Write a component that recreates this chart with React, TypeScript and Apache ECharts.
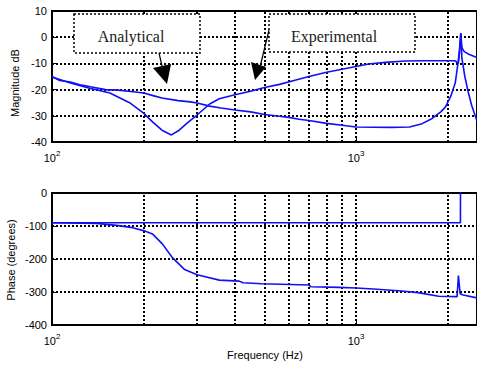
import React, { useEffect, useRef } from "react";
import * as echarts from "echarts";

// ---- data ----
const FREQ_MIN = 100;
const FREQ_MAX = 2500;
const gridFreqs = [200, 300, 400, 500, 600, 700, 800, 900, 1000, 2000];
const magTickLabels = [10, 0, -10, -20, -30, -40];
const phaseTickLabels = [0, -100, -200, -300, -400];

// Magnitude, analytical model (smooth curve with dip near 250 Hz)
const magAnalytical: [number, number][] = [
  [100, -15.2], [115, -17.5], [133, -19.5], [155, -21.3], [180, -25], [200, -29],
  [215, -32.5], [230, -35.5], [247, -37.3], [262, -35.5], [280, -32.5], [300, -29.7],
  [330, -25.5], [355, -23.5], [400, -22.0], [450, -20.6], [500, -19.2], [560, -18.0],
  [630, -16.4], [700, -15.0], [800, -13.4], [900, -12.2], [1000, -11.2], [1100, -10.2],
  [1250, -9.6], [1450, -9.1], [1700, -9.0], [2000, -9.0], [2120, -9.0], [2170, -10],
  [2195, -5], [2210, 1.5], [2230, -4], [2270, -5.5], [2350, -6.5], [2500, -7.8],
];

// Magnitude, experimental (measured)
const magExperimental: [number, number][] = [
  [100, -15], [106, -16.5], [115, -17.1], [125, -18.3], [135, -19], [150, -20],
  [165, -20.2], [185, -20.8], [200, -21.3], [215, -22.3], [230, -23.2], [260, -24.2],
  [285, -24.7], [300, -25.1], [330, -26.3], [360, -27], [400, -27.8], [450, -28.5],
  [500, -29.5], [560, -30.2], [600, -30.6], [650, -31.3], [700, -31.8], [800, -32.9],
  [900, -33.6], [1000, -34.3], [1300, -34.4], [1500, -34.3], [1650, -33], [1780, -31],
  [1900, -28.5], [1970, -26.6], [2050, -22.5], [2120, -17.5], [2170, -9], [2200, -2],
  [2212, 1.6], [2230, -8], [2280, -15], [2340, -21], [2400, -26], [2500, -32],
];

// Phase, flat curve with jump
const phaseA: [number, number][] = [
  [100, -90], [2205, -90], [2207, 90], [2500, 90],
];

// Phase, falling curve
const phaseB: [number, number][] = [
  [100, -90], [140, -92], [163, -98], [184, -105], [200, -114], [214, -124],
  [231, -155], [249, -196], [273, -232], [300, -248], [355, -264], [413, -267],
  [425, -272], [490, -275], [700, -279], [710, -284], [880, -286], [1000, -288],
  [1140, -291], [1380, -296], [1600, -302], [1870, -313], [2150, -314], [2172, -250],
  [2200, -305], [2250, -309], [2500, -318],
];

const BLUE = "#1010f5";
const FONT = '"Liberation Sans", Arial, sans-serif';
const GRID_STYLE = { color: "#000", type: [2, 2], width: 2 };

function xAxisFor(gridIndex: number) {
  return {
    type: "log" as const,
    logBase: 10,
    gridIndex,
    min: FREQ_MIN,
    max: FREQ_MAX,
    axisLine: { show: true, onZero: false, lineStyle: { color: "#000", width: 2 } },
    axisTick: { show: true, inside: true, length: 4, lineStyle: { color: "#000" } },
    splitLine: { show: false },
    axisLabel: {
      show: true,
      margin: 7,
      color: "#000",
      fontFamily: FONT,
      fontSize: 11,
      showMaxLabel: false,
      formatter: (v: number) => {
        const e = Math.round(Math.log10(v));
        if (Math.abs(Math.log10(v) - e) > 1e-6) return "";
        return "{b|10}{s|" + e + "}";
      },
      rich: {
        b: { fontSize: 11, fontFamily: FONT, color: "#000", lineHeight: 14, verticalAlign: "bottom" },
        s: { fontSize: 8, fontFamily: FONT, color: "#000", lineHeight: 14, verticalAlign: "top", padding: [0, 0, 6, 0] },
      },
    },
  };
}

function yAxisFor(gridIndex: number, min: number, max: number, interval: number) {
  return {
    type: "value" as const,
    gridIndex,
    min,
    max,
    interval,
    axisLine: { show: true, lineStyle: { color: "#000", width: 2 } },
    axisTick: { show: true, inside: true, length: 4, lineStyle: { color: "#000" } },
    axisLabel: { color: "#000", fontFamily: FONT, fontSize: 11, margin: 5 },
    splitLine: { show: true, lineStyle: GRID_STYLE },
  };
}

function vGrid() {
  return {
    silent: true,
    symbol: ["none", "none"],
    label: { show: false },
    animation: false,
    lineStyle: GRID_STYLE,
    data: gridFreqs.map((f) => ({ xAxis: f })),
  };
}

function curve(data: [number, number][], axisIndex: number, withGrid: boolean) {
  return {
    type: "line" as const,
    xAxisIndex: axisIndex,
    yAxisIndex: axisIndex,
    data,
    showSymbol: false,
    symbol: "none",
    clip: true,
    z: 5,
    lineStyle: { color: BLUE, width: 1.6 },
    markLine: withGrid ? vGrid() : undefined,
  };
}

export default function App() {
  const ref = useRef<HTMLDivElement>(null);
  useEffect(() => {
    if (!ref.current) return;
    const chart = echarts.init(ref.current, undefined, { renderer: "svg" });
    const option: any = {
      animation: false,
      backgroundColor: "#fff",
      grid: [
        { left: 52, top: 11, width: 426, height: 131, show: true, borderColor: "#000", borderWidth: 2, backgroundColor: "transparent" },
        { left: 52, top: 193, width: 426, height: 132, show: true, borderColor: "#000", borderWidth: 2, backgroundColor: "transparent" },
      ],
      xAxis: [xAxisFor(0), xAxisFor(1)],
      yAxis: [
        yAxisFor(0, magTickLabels[magTickLabels.length - 1], magTickLabels[0], 10),
        yAxisFor(1, phaseTickLabels[phaseTickLabels.length - 1], phaseTickLabels[0], 100),
      ],
      series: [
        curve(magAnalytical, 0, true),
        curve(magExperimental, 0, false),
        curve(phaseA, 1, true),
        curve(phaseB, 1, false),
      ],
      graphic: [
        {
          type: "text", x: 15, y: 83, rotation: Math.PI / 2, z: 100,
          style: { text: "Magnitude dB", font: "11px " + FONT, fill: "#000", align: "center", verticalAlign: "middle" },
        },
        {
          type: "text", x: 11, y: 260, rotation: Math.PI / 2, z: 100,
          style: { text: "Phase (degrees)", font: "11px " + FONT, fill: "#000", align: "center", verticalAlign: "middle" },
        },
        {
          type: "text", x: 265, y: 355, z: 100,
          style: { text: "Frequency (Hz)", font: "11px " + FONT, fill: "#000", align: "center", verticalAlign: "middle" },
        },
        // Analytical box
        {
          type: "rect", z: 100,
          shape: { x: 74, y: 14, width: 126, height: 39 },
          style: { fill: "#fff", stroke: "#000", lineWidth: 1.5, lineDash: [2, 2] },
        },
        {
          type: "text", x: 131, y: 36, z: 101,
          style: { text: "Analytical", font: '16px "Liberation Serif", "Times New Roman", serif', fill: "#222", align: "center", verticalAlign: "middle" },
        },
        {
          type: "line", z: 101,
          shape: { x1: 159, y1: 53, x2: 162, y2: 66 },
          style: { stroke: "#000", lineWidth: 1.2 },
        },
        {
          type: "polygon", z: 101,
          shape: { points: [[153, 68], [171, 64], [167, 84]] },
          style: { fill: "#000" },
        },
        // Experimental box
        {
          type: "rect", z: 100,
          shape: { x: 269, y: 14, width: 146, height: 38 },
          style: { fill: "#fff", stroke: "#000", lineWidth: 1.5, lineDash: [2, 2] },
        },
        {
          type: "text", x: 334, y: 36, z: 101,
          style: { text: "Experimental", font: '16px "Liberation Serif", "Times New Roman", serif', fill: "#222", align: "center", verticalAlign: "middle" },
        },
        {
          type: "line", z: 101,
          shape: { x1: 269, y1: 30, x2: 261, y2: 63 },
          style: { stroke: "#000", lineWidth: 1.2 },
        },
        {
          type: "polygon", z: 101,
          shape: { points: [[251, 62], [266, 67], [255, 80]] },
          style: { fill: "#000" },
        },
      ],
    };
    chart.setOption(option);
    return () => chart.dispose();
  }, []);
  return (
    <div
      ref={ref}
      style={{ position: "fixed", left: 0, top: 0, width: 477, height: 367, background: "#fff" }}
    />
  );
}
